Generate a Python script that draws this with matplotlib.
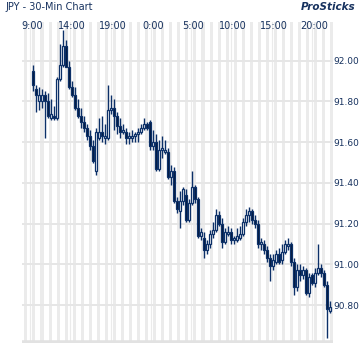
import matplotlib
matplotlib.use("Agg")
import matplotlib.pyplot as plt
from matplotlib.patches import Rectangle
from matplotlib.transforms import blended_transform_factory

title = "JPY - 30-Min Chart"
brand = "ProSticks"
hour_labels = ["9:00", "14:00", "19:00", "0:00", "5:00", "10:00", "15:00", "20:00"]
label_hours = [0, 5, 10, 15, 20, 25, 30, 35]   # hours after the first 9:00 bar
price_ticks = [90.80, 91.00, 91.20, 91.40, 91.60, 91.80, 92.00]

opens = [91.95, 91.86, 91.80, 91.80, 91.83, 91.80, 91.72, 91.73, 91.72, 91.91,
         91.98, 92.07, 91.97, 91.87, 91.83, 91.77, 91.73, 91.70, 91.67, 91.63,
         91.58, 91.46, 91.62, 91.65, 91.62, 91.62, 91.76, 91.77, 91.73, 91.68,
         91.65, 91.65, 91.62, 91.62, 91.63, 91.64, 91.65, 91.67, 91.69, 91.70,
         91.58, 91.60, 91.47, 91.56, 91.55, 91.55, 91.43, 91.46, 91.31, 91.26,
         91.31, 91.34, 91.22, 91.30, 91.38, 91.32, 91.14, 91.13, 91.07, 91.10,
         91.15, 91.17, 91.24, 91.20, 91.11, 91.15, 91.16, 91.12, 91.12, 91.13,
         91.15, 91.21, 91.24, 91.26, 91.22, 91.20, 91.10, 91.10, 91.07, 91.03,
         90.99, 91.01, 91.05, 91.02, 91.06, 91.09, 91.10, 91.01, 90.89, 90.97,
         90.95, 90.97, 90.86, 90.95, 90.91, 90.96, 90.98, 90.96, 90.90, 90.77]
closes = [91.88, 91.83, 91.83, 91.83, 91.80, 91.73, 91.74, 91.72, 91.91, 91.98,
          92.07, 91.97, 91.87, 91.83, 91.77, 91.73, 91.70, 91.67, 91.63, 91.58,
          91.51, 91.65, 91.65, 91.63, 91.63, 91.76, 91.77, 91.73, 91.68, 91.65,
          91.66, 91.62, 91.63, 91.63, 91.64, 91.65, 91.67, 91.69, 91.67, 91.58,
          91.60, 91.47, 91.56, 91.57, 91.56, 91.43, 91.46, 91.31, 91.27, 91.31,
          91.37, 91.22, 91.30, 91.38, 91.32, 91.14, 91.16, 91.07, 91.10, 91.15,
          91.17, 91.24, 91.20, 91.11, 91.16, 91.16, 91.12, 91.13, 91.14, 91.15,
          91.21, 91.24, 91.26, 91.22, 91.20, 91.10, 91.11, 91.07, 91.03, 90.99,
          91.02, 91.05, 91.01, 91.06, 91.10, 91.10, 91.01, 90.89, 90.97, 90.95,
          90.97, 90.86, 90.94, 90.91, 90.96, 90.98, 90.96, 90.90, 90.78, 90.79]
highs = [91.98, 91.88, 91.87, 91.86, 91.85, 91.84, 91.81, 91.78, 91.92, 92.08,
         92.15, 92.10, 92.00, 91.90, 91.87, 91.81, 91.77, 91.73, 91.69, 91.66,
         91.61, 91.67, 91.72, 91.73, 91.69, 91.88, 91.83, 91.81, 91.75, 91.72,
         91.69, 91.67, 91.65, 91.66, 91.65, 91.67, 91.69, 91.72, 91.70, 91.71,
         91.66, 91.64, 91.61, 91.63, 91.61, 91.57, 91.49, 91.48, 91.33, 91.36,
         91.38, 91.37, 91.32, 91.46, 91.39, 91.33, 91.18, 91.16, 91.12, 91.17,
         91.21, 91.27, 91.26, 91.23, 91.18, 91.19, 91.18, 91.14, 91.18, 91.19,
         91.23, 91.27, 91.28, 91.27, 91.24, 91.22, 91.13, 91.12, 91.09, 91.05,
         91.05, 91.07, 91.08, 91.10, 91.12, 91.13, 91.11, 91.03, 91.00, 91.00,
         90.99, 90.98, 90.96, 90.96, 90.98, 91.10, 91.00, 90.97, 90.92, 90.82]
lows = [91.85, 91.75, 91.76, 91.77, 91.62, 91.72, 91.71, 91.71, 91.71, 91.90,
        91.97, 91.97, 91.86, 91.82, 91.76, 91.72, 91.67, 91.65, 91.61, 91.56,
        91.50, 91.44, 91.61, 91.60, 91.59, 91.61, 91.74, 91.66, 91.64, 91.62,
        91.64, 91.59, 91.59, 91.60, 91.60, 91.60, 91.64, 91.66, 91.66, 91.56,
        91.56, 91.46, 91.46, 91.52, 91.54, 91.42, 91.39, 91.30, 91.25, 91.18,
        91.29, 91.21, 91.21, 91.29, 91.30, 91.13, 91.12, 91.03, 91.05, 91.08,
        91.13, 91.16, 91.19, 91.08, 91.10, 91.14, 91.10, 91.10, 91.11, 91.12,
        91.14, 91.19, 91.21, 91.20, 91.18, 91.08, 91.07, 91.05, 91.01, 90.92,
        90.97, 91.00, 91.00, 91.00, 91.05, 91.07, 90.99, 90.85, 90.87, 90.92,
        90.93, 90.85, 90.84, 90.90, 90.89, 90.95, 90.94, 90.89, 90.64, 90.76]

NAVY = "#0c3068"
DARK = "#04193a"
TEXT = "#17325f"
GRID = "#ebebeb"

px_per_hour = 8.05
bar_step = 3 / px_per_hour          # spacing between sticks, in hours
body_w = 2.6 / px_per_hour

fig = plt.figure(figsize=(3.6, 3.6), dpi=100)
fig.patch.set_facecolor("white")
ax = fig.add_axes([22 / 360, 17 / 360, 311 / 360, 321 / 360])
ax.set_xlim(-11 / px_per_hour, 300 / px_per_hour)
ax.set_ylim(90.614, 92.19)

# hour columns
for k in range(-2, 39):
    ax.axvspan(k + 0.12 - 0.19, k + 0.12 + 0.19, color=GRID, lw=0, zorder=0)
for h in label_hours:
    ax.axvline(h - 0.37, color=GRID, lw=0.8, zorder=0)
for p in price_ticks:
    ax.axhline(p, color="#e6e6e6", lw=1.4, zorder=0.5)
ax.axhline(90.614, color="#e2e2e2", lw=4, zorder=0.5)

# sticks
for i in range(len(opens)):
    x = i * bar_step
    o, c, hi, lo = opens[i], closes[i], highs[i], lows[i]
    ax.vlines(x, lo, hi, color=NAVY, lw=1.0, zorder=2)
    bottom = min(o, c)
    height = max(abs(c - o), 0.002)
    face = "white" if c >= o else DARK
    ax.add_patch(Rectangle((x - body_w / 2, bottom), body_w, height,
                           facecolor=face, edgecolor=NAVY, lw=0.9, zorder=3))

# time labels inside the top of the plot
trans = blended_transform_factory(ax.transData, ax.transAxes)
for h, lab in zip(label_hours, hour_labels):
    ax.text(h - 0.12, 0.986, lab, transform=trans, ha="center", va="center",
            fontsize=7, color=TEXT, zorder=4)

ax.yaxis.tick_right()
ax.set_yticks(price_ticks)
ax.set_yticklabels(["%.2f" % p for p in price_ticks])
ax.tick_params(axis="y", length=0, pad=0.5, labelsize=6.5, labelcolor=TEXT)
ax.set_xticks([])
for s in ax.spines.values():
    s.set_visible(False)

fig.text(5 / 360, 1 - 7 / 360, title, ha="left", va="center", fontsize=7, color=TEXT)
fig.text(355 / 360, 1 - 7 / 360, brand, ha="right", va="center", fontsize=7.5,
         color=TEXT, fontweight="bold", fontstyle="italic")

fig.savefig("out.png", dpi=100, facecolor="white")
